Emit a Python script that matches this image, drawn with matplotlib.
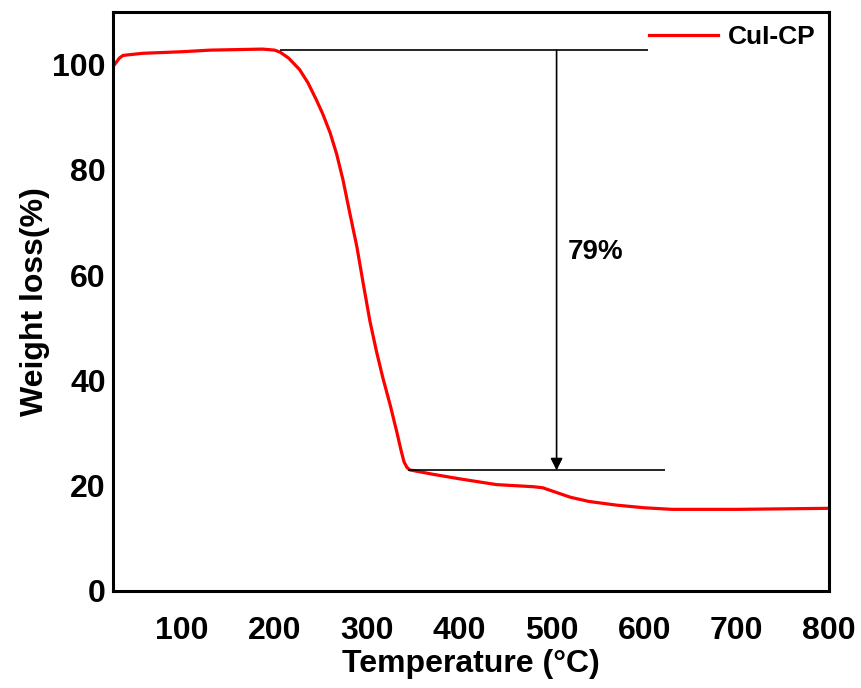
import matplotlib
matplotlib.use("Agg")
import matplotlib.pyplot as plt

# TGA curve
temperature = [25, 27, 32, 36, 57, 100, 130, 187, 200, 206, 215, 227, 236, 245,
               252, 260, 267, 274, 281, 289, 296, 303, 310, 317, 325, 332, 337,
               340, 343, 346, 370, 400, 440, 480, 490, 500, 520, 540, 570, 600,
               630, 700, 800]
weight = [99.6, 100.0, 101.2, 101.7, 102.1, 102.4, 102.7, 102.9, 102.7, 102.3,
          101.2, 99.0, 96.5, 93.3, 90.6, 87.0, 83.0, 78.0, 72.0, 65.3, 58.2,
          51.3, 45.6, 40.5, 35.3, 30.3, 26.5, 24.5, 23.5, 23.0, 22.2, 21.3,
          20.2, 19.8, 19.6, 19.0, 17.8, 17.0, 16.3, 15.8, 15.5, 15.5, 15.7]

x_ticks = [100, 200, 300, 400, 500, 600, 700, 800]
y_ticks = [0, 20, 40, 60, 80, 100]

# loss guide lines
top_level, top_span = 102.7, (206, 604)
bottom_level, bottom_span = 22.9, (344, 622)
arrow_x = 505
loss_label = "79%"

plt.rcParams["font.family"] = ["Liberation Sans", "DejaVu Sans"]
plt.rcParams["font.weight"] = "bold"

fig = plt.figure(figsize=(8.62, 6.88), dpi=100)
ax = fig.add_axes([0.131, 0.141, 0.831, 0.842])

ax.plot(temperature, weight, color="#ff0000", lw=2.3, label="CuI-CP")

ax.hlines(top_level, *top_span, color="black", lw=1.2)
ax.hlines(bottom_level, *bottom_span, color="black", lw=1.2)
ax.annotate("", xy=(arrow_x, bottom_level), xytext=(arrow_x, top_level),
            arrowprops=dict(arrowstyle="-|>", color="black", lw=1.2,
                            mutation_scale=18, shrinkA=0, shrinkB=0))
ax.text(arrow_x + 12, 64.3, loss_label, fontsize=20, fontweight="bold",
        va="center", ha="left")

ax.set_xlim(25, 800)
ax.set_ylim(0, 110)
ax.set_xticks(x_ticks)
ax.set_yticks(y_ticks)
ax.tick_params(axis="both", length=0, labelsize=23)
ax.tick_params(axis="x", pad=18)
ax.tick_params(axis="y", pad=5)
for lab in ax.get_xticklabels() + ax.get_yticklabels():
    lab.set_fontweight("bold")

ax.set_xlabel("Temperature (°C)", fontsize=23, fontweight="bold", labelpad=2)
ax.set_ylabel("Weight loss(%)", fontsize=23, fontweight="bold", labelpad=2)

for sp in ax.spines.values():
    sp.set_linewidth(2.2)

leg = ax.legend(loc="upper right", frameon=False,
                handlelength=2.6, borderaxespad=0.1, handletextpad=0.4,
                prop={"weight": "bold", "size": 19})

fig.savefig("out.png", dpi=100, facecolor="white")
